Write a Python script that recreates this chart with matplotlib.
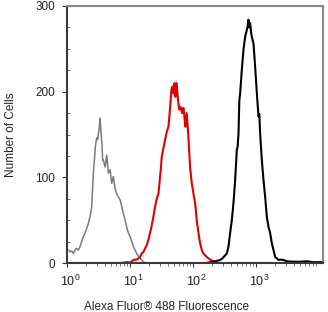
import numpy as np
import matplotlib
matplotlib.use("Agg")
import matplotlib.pyplot as plt
from matplotlib.ticker import MultipleLocator, LogLocator, NullFormatter
import matplotlib.transforms as mtransforms

plt.rcParams['font.family'] = ['Liberation Sans', 'DejaVu Sans']
plt.rcParams['mathtext.fontset'] = 'custom'
plt.rcParams['mathtext.rm'] = 'Liberation Sans'
plt.rcParams['mathtext.it'] = 'Liberation Sans'
plt.rcParams['mathtext.bf'] = 'Liberation Sans'

# ---- data (log10 fluorescence, counts) ----
gray_log = [0.032, 0.048, 0.075, 0.101, 0.125, 0.153, 0.180, 0.206, 0.233, 0.259,
            0.286, 0.312, 0.339, 0.365, 0.392, 0.407, 0.418, 0.434, 0.450, 0.471,
            0.487, 0.503, 0.513, 0.524, 0.540, 0.556, 0.566, 0.577, 0.604, 0.630,
            0.656, 0.683, 0.709, 0.735, 0.762, 0.788, 0.815, 0.841, 0.868, 0.894,
            0.921, 0.947, 0.974, 1.000, 1.026, 1.053, 1.079, 1.106, 1.159, 1.212,
            1.240]
gray_cnt = [15, 13, 14, 11, 15, 17, 15, 19, 25, 31,
            35, 40, 46, 54, 66, 89, 105, 120, 136, 146,
            144, 153, 159, 169, 153, 136, 120, 120, 112, 126,
            105, 109, 93, 101, 87, 81, 77, 74, 66, 58,
            50, 42, 35, 31, 25, 19, 15, 11, 5.5, 1.5,
            0]

red_log = [0.850, 0.950, 1.000, 1.053, 1.106, 1.159, 1.185, 1.212, 1.238, 1.265,
           1.291, 1.317, 1.344, 1.370, 1.397, 1.423, 1.450, 1.466, 1.487, 1.503,
           1.529, 1.556, 1.582, 1.608, 1.624, 1.640, 1.656, 1.672, 1.688, 1.704,
           1.720, 1.735, 1.751, 1.767, 1.783, 1.804, 1.825, 1.847, 1.862, 1.878,
           1.899, 1.915, 1.931, 1.952, 1.979, 2.005, 2.032, 2.058, 2.085, 2.111,
           2.138, 2.164, 2.217, 2.270, 2.323, 2.370]
red_cnt = [0, 1, 0.5, 3.5, 4, 7, 11, 13, 17, 21,
           27, 35, 44, 54, 66, 75, 81, 93, 109, 124,
           134, 144, 153, 159, 171, 186, 202, 206, 198, 210,
           194, 210, 198, 186, 179, 182, 175, 181, 171, 159,
           175, 159, 140, 112, 93, 81, 70, 50, 35, 23,
           15, 11, 7, 4, 2, 0]

black_log = [2.200, 2.323, 2.429, 2.466, 2.534, 2.561, 2.587, 2.614, 2.640, 2.667,
             2.693, 2.706, 2.720, 2.733, 2.746, 2.772, 2.799, 2.825, 2.852, 2.865,
             2.878, 2.892, 2.905, 2.918, 2.931, 2.958, 2.984, 3.011, 3.037, 3.050,
             3.063, 3.090, 3.116, 3.143, 3.169, 3.196, 3.222, 3.249, 3.275, 3.302,
             3.328, 3.354, 3.381, 3.434, 3.487, 3.593, 3.698, 3.804, 3.910, 4.060]
black_cnt = [0, 1.5, 3.5, 5.5, 11, 19, 35, 50, 70, 97,
             132, 136, 151, 190, 198, 225, 249, 264, 272, 276,
             284, 275, 280, 270, 264, 256, 229, 198, 171, 174,
             151, 120, 97, 77, 54, 42, 35, 23, 15, 7,
             5.5, 3.5, 4, 3.5, 2, 1.5, 1.5, 2, 1, 1]

y_ticks = [0, 100, 200, 300]
x_ticks = [1, 10, 100, 1000]
x_tick_labels = [r'$10^{0}$', r'$10^{1}$', r'$10^{2}$', r'$10^{3}$']

# ---- figure ----
fig = plt.figure(figsize=(3.28, 3.12), dpi=100)
ax = fig.add_axes([67/328, 1-263/312, 256/328, 257/312])

ax.plot(np.power(10.0, gray_log), gray_cnt, color='#7a7a7a', lw=1.1)
ax.plot(np.power(10.0, red_log), red_cnt, color='#e00000', lw=1.5)
ax.plot(np.power(10.0, black_log), black_cnt, color='#000000', lw=1.5)

ax.set_xscale('log')
ax.set_xlim(1, 10**4.06)
ax.set_ylim(0, 300)

ax.set_yticks(y_ticks)
ax.yaxis.set_minor_locator(MultipleLocator(25))
ax.set_xticks(x_ticks)
ax.set_xticklabels(x_tick_labels)
ax.xaxis.set_minor_locator(LogLocator(base=10, subs=np.arange(2, 10), numticks=20))
ax.xaxis.set_minor_formatter(NullFormatter())

ax.tick_params(axis='both', which='major', labelsize=8.5, colors='#333333',
               labelcolor='#222222')
ax.tick_params(axis='y', which='major', direction='out', length=3.6, width=0.8, pad=5)
ax.tick_params(axis='y', which='minor', direction='in', length=2, width=0.6, colors='#555555')
ax.tick_params(axis='x', which='major', direction='out', length=3, width=0.8, pad=5)
ax.tick_params(axis='x', which='minor', direction='out', length=2, width=0.6, colors='#555555')

offset = mtransforms.ScaledTranslation(3/100, 0, fig.dpi_scale_trans)
for lab in ax.get_xticklabels():
    lab.set_transform(lab.get_transform() + offset)
    lab.set_fontsize(9)

for side in ['left', 'bottom']:
    ax.spines[side].set_color('#3a3a3a')
    ax.spines[side].set_linewidth(1.5)
for side in ['top', 'right']:
    ax.spines[side].set_color('#8a8a8a')
    ax.spines[side].set_linewidth(1.5)

ax.set_ylabel('Number of Cells', fontsize=8.5, color='#222222')
ax.yaxis.set_label_coords(-0.195, 0.5)
ax.set_xlabel('Alexa Fluor\u00ae 488 Fluorescence', fontsize=8.5, color='#222222')
ax.xaxis.set_label_coords(0.387, -0.148)

fig.savefig('out.png', dpi=100)
